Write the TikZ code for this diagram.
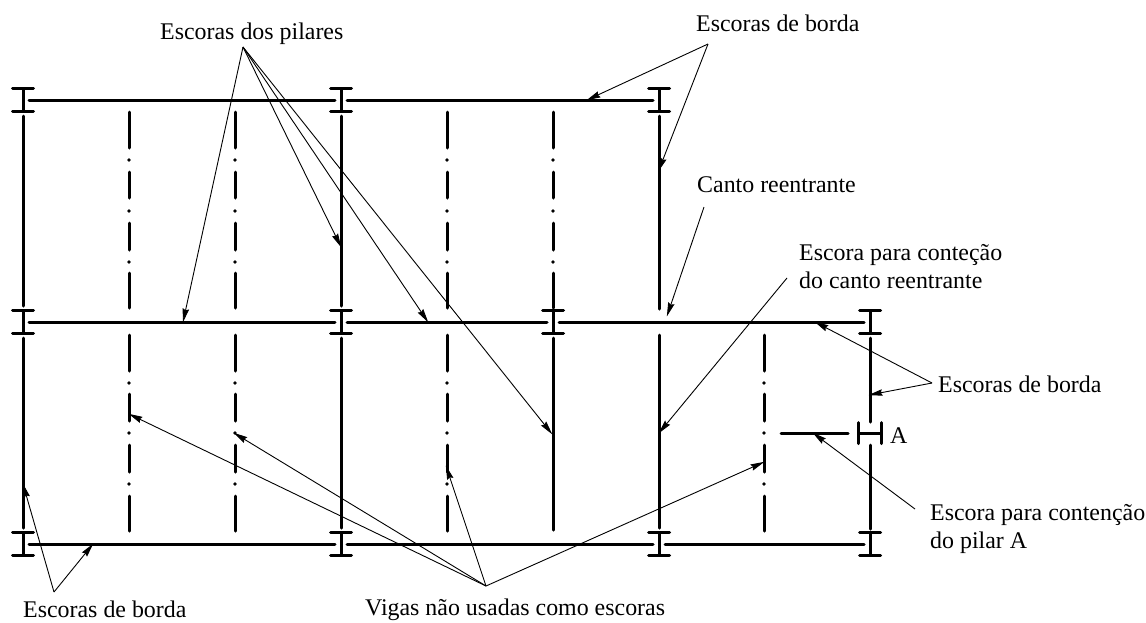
\documentclass[tikz,border=0pt]{standalone}
\usepackage{fontspec}
\setmainfont{Liberation Serif}
\usetikzlibrary{arrows.meta}
\tikzset{
  member/.style={line width=3pt,line cap=round},
  leader/.style={line width=0.9pt,-{Stealth[length=14pt,width=6.5pt,inset=1.5pt]},shorten >=-0.5pt},
  lbl/.style={anchor=base west,inner sep=0pt,font=\fontsize{23.9}{28}\selectfont,text=black},
  isec/.pic={\draw[member] (-10.5,-11.3)--(10.5,-11.3) (-10.5,11.3)--(10.5,11.3) (0,-11.3)--(0,11.3);},
  dashdotup/.pic={\draw[member] (0,112)--(0,148) (0,172)--(0,198) (0,223)--(0,250) (0,273)--(0,308);
    \foreach \d in {160,211,262}{\fill (0,\d) circle (1.8pt);}},
  dashdotlow/.pic={\draw[member] (0,335)--(0,371) (0,394)--(0,421) (0,445)--(0,472) (0,496)--(0,531);
    \foreach \d in {383,433,484}{\fill (0,\d) circle (1.8pt);}}
}
\begin{document}
\begin{tikzpicture}[x=1pt,y=-1pt]
\useasboundingbox[fill=white] (0,0) rectangle (1146,622);
% I sections
\foreach \p/\q in {23/100,341/100,659/100,23/322,341/322,553/322,870/322,23/544,341/544,659/544,870/544}{
  \pic at (\p,\q) {isec};
}
\pic[rotate=90] at (870,433) {isec};
% beams
\foreach \a/\b/\c in {29/335/100,347/653/100,29/335/322,347/547/322,559/864/322,29/335/544,347/653/544,665/864/544,781/848/433}{
  \draw[member] (\a,\c)--(\b,\c);
}
% solid columns
\foreach \p/\a/\b in {23/116/306,23/338/528,341/116/306,341/338/528,553/338/530,659/116/309,659/335/528,870/338/422,870/445/529}{
  \draw[member] (\p,\a)--(\p,\b);
}
% dash-dot beams
\foreach \p in {129,235,447,553}{\pic at (\p,0) {dashdotup};}
\foreach \p in {129,235,447,764}{\pic at (\p,0) {dashdotlow};}
% labels
\node[lbl] (pil) at (160,39) {Escoras dos pilares};
\node[lbl] (bt) at (696,31) {Escoras de borda};
\node[lbl] (canto) at (697,192) {Canto reentrante};
\node[lbl] (cont1) at (799,260) {Escora para conteção};
\node[lbl] (cont2) at (799,288) {do canto reentrante};
\node[lbl] (br) at (938,392) {Escoras de borda};
\node[lbl] (pa) at (890,443) {A};
\node[lbl] (esc1) at (930,520) {Escora para contenção};
\node[lbl] (esc2) at (930,548) {do pilar A};
\node[lbl] (vig) at (365,615) {Vigas não usadas como escoras};
\node[lbl] (bl) at (23,617.5) {Escoras de borda};
% leader ends
\coordinate (apil) at (243,47);
\coordinate (abt) at (708,44);
\coordinate (acanto) at (704,207);
\coordinate (acont) at (787,278);
\coordinate (abr) at (932,383);
\coordinate (aesc) at (915,509);
\coordinate (avig) at (486,586);
\coordinate (abl) at (54,592);
\draw[leader] (apil)--(183,322);
\draw[leader] (apil)--(341,247);
\draw[leader] (apil)--(428,322);
\draw[leader] (apil)--(552,434);
\draw[leader] (abt)--(587,100);
\draw[leader] (abt)--(658.5,171);
\draw[leader] (acanto)--(667,316);
\draw[leader] (acont)--(659,433);
\draw[leader] (abr)--(815,322);
\draw[leader] (abr)--(869,395);
\draw[leader] (aesc)--(813,433);
\draw[leader] (avig)--(129,414);
\draw[leader] (avig)--(234,433);
\draw[leader] (avig)--(446,466);
\draw[leader] (avig)--(764,462);
\draw[leader] (abl)--(23,484);
\draw[leader] (abl)--(93,544);
\end{tikzpicture}
\end{document}
